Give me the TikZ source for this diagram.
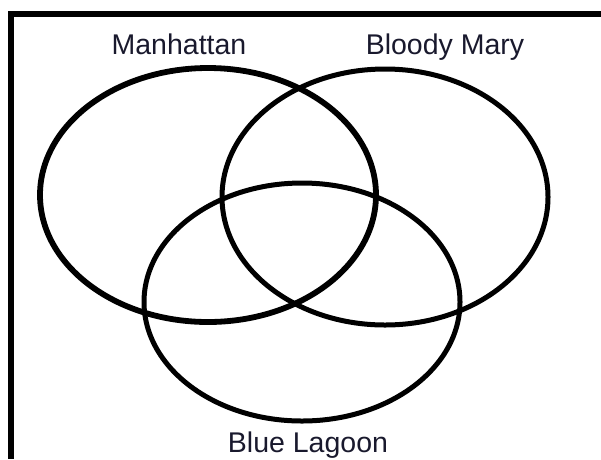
\documentclass[tikz,border=0pt]{standalone}
\usepackage{fontspec}
\setmainfont{Liberation Sans}
\usetikzlibrary{shapes.geometric}
\definecolor{labelcol}{RGB}{25,25,45}
\tikzset{
  venn/.style={draw=black, line width=5pt, ellipse, inner sep=0pt, fill=none},
  vlabel/.style={anchor=base, text=labelcol, font=\fontsize{28.5}{31}\selectfont, inner sep=0pt},
  frameline/.style={line width=5.5pt, draw=black}
}
\begin{document}
\begin{tikzpicture}[x=1pt,y=-1pt]
\useasboundingbox (0,0) rectangle (601,459);
% frame
\coordinate (fTL) at (11,14);
\coordinate (fTR) at (601,14);
\coordinate (fBL) at (11,459);
\draw[frameline] (fTR) -- (8.25,14);
\draw[frameline] (fTL) -- (fBL);
% ellipses
\node[venn, line width=5.8pt, minimum width=336pt, minimum height=254pt] (man) at (208,195) {};
\node[venn, minimum width=326pt, minimum height=256pt] (bm) at (385,197) {};
\node[venn, minimum width=316pt, minimum height=238pt] (bl) at (302,302) {};
% labels
\node[vlabel] (lman) at (179,54) {Manhattan};
\node[vlabel] (lbm) at (445,54) {Bloody Mary};
\node[vlabel] (lbl) at (308,452) {Blue Lagoon};
\end{tikzpicture}
\end{document}
